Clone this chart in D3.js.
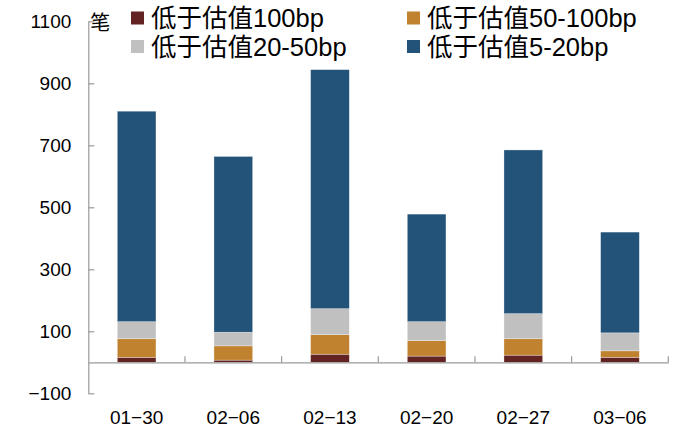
<!DOCTYPE html>
<html>
<head>
<meta charset="utf-8">
<script src="https://cdn.jsdelivr.net/npm/d3@7"></script>
<style>
  html, body { margin: 0; padding: 0; background: #ffffff; }
  svg { display: block; }
  text { font-family: "Liberation Sans", Arial, "Noto Sans CJK SC", sans-serif; fill: #000; }
</style>
</head>
<body>
<svg id="chart" width="700" height="434"></svg>
<script>
// ---- data ----
const categories = ["01-30", "02-06", "02-13", "02-20", "02-27", "03-06"];
const seriesNames = ["低于估值100bp", "低于估值50-100bp", "低于估值20-50bp", "低于估值5-20bp"];
const below100 = [16, 7, 26, 20, 23, 16];
const below50to100 = [60, 46, 63, 50, 53, 21];
const below20to50 = [55, 44, 84, 61, 81, 58];
const below5to20 = [679, 567, 771, 347, 528, 325];
const yTicks = [-100, 100, 300, 500, 700, 900, 1100];
const unitLabel = "笔";
const colors = ["#632322", "#C0822F", "#C0C0C0", "#24537A"];

// ---- build table ----
const seriesValues = [below100, below50to100, below20to50, below5to20];
const rows = categories.map((c, i) => {
  const r = { cat: c };
  seriesNames.forEach((s, k) => r[s] = seriesValues[k][i]);
  return r;
});
const stacked = d3.stack().keys(seriesNames)(rows);

const svg = d3.select("#chart");
const plotLeft = 88.3, plotRight = 668.3, plotTop = 21.3, plotBottom = 393.3;

const x = d3.scaleBand().domain(categories).range([plotLeft, plotRight])
  .paddingInner(0.6).paddingOuter(0.3);
const y = d3.scaleLinear().domain([-100, 1100]).range([plotBottom, plotTop]);
const color = d3.scaleOrdinal().domain(seriesNames).range(colors);

// bars
svg.append("g").selectAll("g").data(stacked).join("g")
  .attr("fill", d => color(d.key))
  .selectAll("rect").data(d => d).join("rect")
  .attr("x", d => x(d.data.cat))
  .attr("width", x.bandwidth())
  .attr("y", d => y(d[1]))
  .attr("height", d => y(d[0]) - y(d[1]))
  .attr("stroke", "#ffffff")
  .attr("stroke-opacity", 0.5)
  .attr("stroke-width", 0.6);

const axisColor = "#9a9a9a";

// y axis
const yAxis = svg.append("g").attr("transform", `translate(${plotLeft},0)`)
  .call(d3.axisLeft(y).tickValues(yTicks).tickSizeInner(-6).tickSizeOuter(0).tickPadding(17)
    .tickFormat(d => d < 0 ? "\u2212" + Math.abs(d) : String(d)));
yAxis.select(".domain").attr("stroke", axisColor).attr("stroke-width", 1.2);
yAxis.selectAll(".tick line").attr("stroke", axisColor).attr("stroke-width", 1.2);
yAxis.selectAll(".tick text").attr("font-size", 19)
  .attr("font-family", "\"Liberation Sans\", Arial, sans-serif").attr("fill", "#000");

// x axis at zero
const xAxis = svg.append("g").attr("transform", `translate(0,${y(0)})`)
  .call(d3.axisBottom(x).tickSize(0).tickPadding(48).tickFormat(d => d.replace("-", "\u2212")));
xAxis.select(".domain").attr("stroke", axisColor).attr("stroke-width", 1.2);
xAxis.selectAll(".tick text").attr("font-size", 19)
  .attr("font-family", "\"Liberation Sans\", Arial, sans-serif").attr("fill", "#000");
// boundary ticks pointing up
const bounds = d3.range(1, categories.length + 1).map(i => x.range()[0] + i * x.step());
xAxis.selectAll(".btick").data(bounds).join("line")
  .attr("class", "btick")
  .attr("x1", d => d).attr("x2", d => d)
  .attr("y1", 0).attr("y2", -6)
  .attr("stroke", axisColor).attr("stroke-width", 1.2);

// unit label
svg.append("text").attr("x", plotLeft + 2).attr("y", y(1100) + 2)
  .attr("dominant-baseline", "central")
  .attr("font-size", 20)
  .attr("font-family", "\"Noto Sans CJK SC\", sans-serif")
  .text(unitLabel);

// legend
const legendPos = [
  { mx: 131, cy: 18 }, { mx: 407, cy: 18 },
  { mx: 131, cy: 46.5 }, { mx: 407, cy: 46.5 }
];
const lg = svg.append("g").selectAll("g").data(seriesNames).join("g")
  .attr("transform", (d, i) => `translate(${legendPos[i].mx},${legendPos[i].cy})`);
lg.append("rect").attr("x", 0).attr("y", -6.5).attr("width", 13).attr("height", 13)
  .attr("fill", d => color(d));
lg.append("text").attr("x", 20).attr("y", 0)
  .attr("dominant-baseline", "central")
  .attr("font-size", 25.5)
  .attr("font-family", "\"Noto Sans CJK SC\", sans-serif")
  .text(d => d);
</script>
</body>
</html>
